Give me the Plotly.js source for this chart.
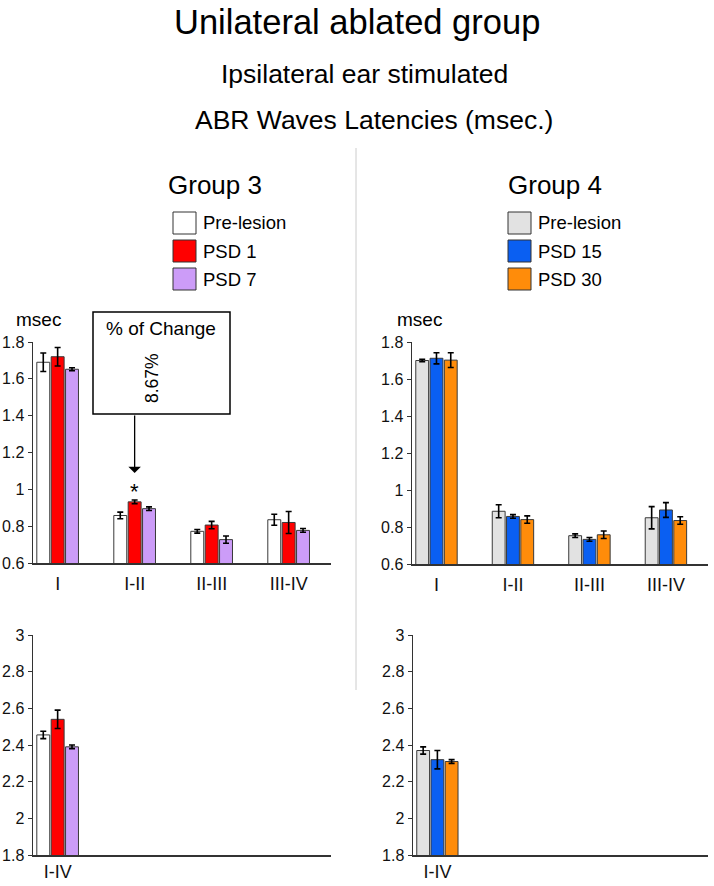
<!DOCTYPE html>
<html>
<head>
<meta charset="utf-8">
<script src="https://cdn.plot.ly/plotly-3.0.1.min.js"></script>
<style>
body { margin: 0; padding: 0; background: #fff; }
#graph { width: 714px; height: 886px; }
</style>
</head>
<body>
<div id="graph"></div>
<script>
// ------------------- data ----------------------
var waves = ["I", "I-II", "II-III", "III-IV"];
var waveIdx = [0, 1, 2, 3];
var totalLabel = ["I-IV"];

// Group 3
var g3Names = ["Pre-lesion", "PSD 1", "PSD 7"];
var g3Pre = [1.69, 0.858, 0.772, 0.835];
var g3PreErr = [0.05, 0.018, 0.01, 0.03];
var g3Psd1 = [1.72, 0.932, 0.806, 0.82];
var g3Psd1Err = [0.05, 0.01, 0.02, 0.06];
var g3Psd7 = [1.652, 0.895, 0.727, 0.777];
var g3Psd7Err = [0.008, 0.01, 0.02, 0.01];
var g3TotPre = [2.455];
var g3TotPreErr = [0.02];
var g3TotPsd1 = [2.54];
var g3TotPsd1Err = [0.05];
var g3TotPsd7 = [2.39];
var g3TotPsd7Err = [0.01];

// Group 4
var g4Names = ["Pre-lesion", "PSD 15", "PSD 30"];
var g4Pre = [1.70, 0.885, 0.753, 0.85];
var g4PreErr = [0.007, 0.035, 0.01, 0.06];
var g4Psd15 = [1.712, 0.857, 0.733, 0.892];
var g4Psd15Err = [0.03, 0.01, 0.01, 0.04];
var g4Psd30 = [1.702, 0.84, 0.758, 0.835];
var g4Psd30Err = [0.04, 0.02, 0.02, 0.02];
var g4TotPre = [2.37];
var g4TotPreErr = [0.02];
var g4TotPsd15 = [2.32];
var g4TotPsd15Err = [0.05];
var g4TotPsd30 = [2.31];
var g4TotPsd30Err = [0.01];

var g3Colors = ["#ffffff", "#ff0000", "#cc9cf8"];
var g4Colors = ["#e2e2e2", "#0a5ff2", "#ff8c0a"];

// ------------------- helpers ----------------------
var W = 714, H = 886;
function px(x) { return x / W; }
function py(y) { return 1 - y / H; }
var FONT = "Liberation Sans, Arial, sans-serif";

function barTrace(name, x, y, err, color, xa, ya) {
	return {
		type: "bar",
		name: name,
		x: x,
		y: y,
		xaxis: xa,
		yaxis: ya,
		marker: { color: color, line: { color: "#3a3a3a", width: 1 } },
		error_y: { type: "data", array: err, visible: true, color: "#000", thickness: 1.6, width: 3 },
		showlegend: false,
		hoverinfo: "x+y"
	};
}

var traces = [
	barTrace(g3Names[0], waveIdx, g3Pre, g3PreErr, g3Colors[0], "x", "y"),
	barTrace(g3Names[1], waveIdx, g3Psd1, g3Psd1Err, g3Colors[1], "x", "y"),
	barTrace(g3Names[2], waveIdx, g3Psd7, g3Psd7Err, g3Colors[2], "x", "y"),
	barTrace(g4Names[0], waveIdx, g4Pre, g4PreErr, g4Colors[0], "x2", "y2"),
	barTrace(g4Names[1], waveIdx, g4Psd15, g4Psd15Err, g4Colors[1], "x2", "y2"),
	barTrace(g4Names[2], waveIdx, g4Psd30, g4Psd30Err, g4Colors[2], "x2", "y2"),
	barTrace(g3Names[0], [0], g3TotPre, g3TotPreErr, g3Colors[0], "x3", "y3"),
	barTrace(g3Names[1], [0], g3TotPsd1, g3TotPsd1Err, g3Colors[1], "x3", "y3"),
	barTrace(g3Names[2], [0], g3TotPsd7, g3TotPsd7Err, g3Colors[2], "x3", "y3"),
	barTrace(g4Names[0], [0], g4TotPre, g4TotPreErr, g4Colors[0], "x4", "y4"),
	barTrace(g4Names[1], [0], g4TotPsd15, g4TotPsd15Err, g4Colors[1], "x4", "y4"),
	barTrace(g4Names[2], [0], g4TotPsd30, g4TotPsd30Err, g4Colors[2], "x4", "y4")
];

function xAxis(left, right, vals, text, standoff) {
	return {
		domain: [px(left), px(right)],
		range: [-0.32, 3.55],
		showline: true, linecolor: "#333", linewidth: 1.5,
		showgrid: false, zeroline: false,
		ticks: "",
		ticklabelstandoff: standoff,
		tickmode: "array", tickvals: vals, ticktext: text,
		tickfont: { family: FONT, size: 18, color: "#111" },
		fixedrange: true
	};
}
function yAxis(top, bottom, range, anchor) {
	return {
		domain: [py(bottom), py(top)],
		range: range,
		dtick: 0.2,
		anchor: anchor,
		showline: true, linecolor: "#333", linewidth: 1.5,
		showgrid: false, zeroline: false,
		ticks: "outside", ticklen: 4, tickcolor: "#333",
		tickfont: { family: FONT, size: 16, color: "#111" },
		fixedrange: true
	};
}

// ------------------- legends / decorations ----------------------
var shapes = [];
var annotations = [];

function addText(text, x, y, size, anchor) {
	annotations.push({
		text: text, xref: "paper", yref: "paper",
		x: px(x), y: py(y), xanchor: anchor || "center", yanchor: "middle",
		showarrow: false, font: { family: FONT, size: size, color: "#000" }
	});
}

function addLegend(title, titleX, boxX, names, colors) {
	addText(title, titleX, 185, 26);
	var rows = [223, 251, 279];
	for (var i = 0; i < names.length; i++) {
		shapes.push({
			type: "rect", xref: "paper", yref: "paper",
			x0: px(boxX), x1: px(boxX + 23), y0: py(rows[i] + 11), y1: py(rows[i] - 11),
			fillcolor: colors[i], line: { color: "#333", width: 1 }
		});
		addText(names[i], boxX + 28, rows[i], 18.5, "left");
	}
}

addText("Unilateral ablated group", 357, 22, 34.5);
addText("Ipsilateral ear stimulated", 364, 74, 26.5);
addText("ABR Waves Latencies (msec.)", 374, 120, 26.5);
addLegend("Group 3", 215, 173, g3Names, g3Colors);
addLegend("Group 4", 555, 508, g4Names, g4Colors);
addText("msec", 38, 320, 19);
addText("msec", 419, 320, 19);

// divider between the two groups
shapes.push({
	type: "line", xref: "paper", yref: "paper",
	x0: px(356), x1: px(356), y0: py(148), y1: py(690),
	line: { color: "#cccccc", width: 1 }
});

// % of change box
shapes.push({
	type: "rect", xref: "paper", yref: "paper",
	x0: px(93), x1: px(230), y0: py(414), y1: py(312),
	fillcolor: "#fff", line: { color: "#000", width: 1.5 }
});
addText("% of Change", 161, 328, 19);
annotations.push({
	text: "8.67%", xref: "paper", yref: "paper", x: px(140), y: py(378),
	textangle: -90, showarrow: false, font: { family: FONT, size: 17.5, color: "#000" }
});
annotations.push({
	text: "", xref: "x", yref: "paper", x: 1, y: py(473),
	showarrow: true, arrowhead: 1, arrowsize: 1.6, arrowwidth: 1.3, arrowcolor: "#000",
	ax: 0, ay: -59
});
annotations.push({
	text: "*", xref: "x", yref: "paper", x: 1, y: py(492),
	showarrow: false, font: { family: FONT, size: 22, color: "#000" }
});

var layout = {
	width: W,
	height: H,
	margin: { l: 0, r: 0, t: 0, b: 0 },
	paper_bgcolor: "#fff",
	plot_bgcolor: "#fff",
	barmode: "group",
	bargap: 0.44,
	bargroupgap: 0.1,
	showlegend: false,
	font: { family: FONT, color: "#000" },
	xaxis: xAxis(33, 331, waveIdx, waves, 4),
	yaxis: yAxis(342, 563, [0.6, 1.8], "x"),
	xaxis2: xAxis(412, 708, waveIdx, waves, 4),
	yaxis2: yAxis(342, 564, [0.6, 1.8], "x2"),
	xaxis3: xAxis(33, 331, [0], totalLabel, 0),
	yaxis3: yAxis(635, 855, [1.8, 3], "x3"),
	xaxis4: xAxis(413, 708, [0], totalLabel, 0),
	yaxis4: yAxis(635, 855, [1.8, 3], "x4"),
	shapes: shapes,
	annotations: annotations
};
layout.xaxis.anchor = "y";
layout.xaxis2.anchor = "y2";
layout.xaxis3.anchor = "y3";
layout.xaxis4.anchor = "y4";

Plotly.newPlot("graph", traces, layout, { displayModeBar: false, staticPlot: true });
</script>
</body>
</html>
